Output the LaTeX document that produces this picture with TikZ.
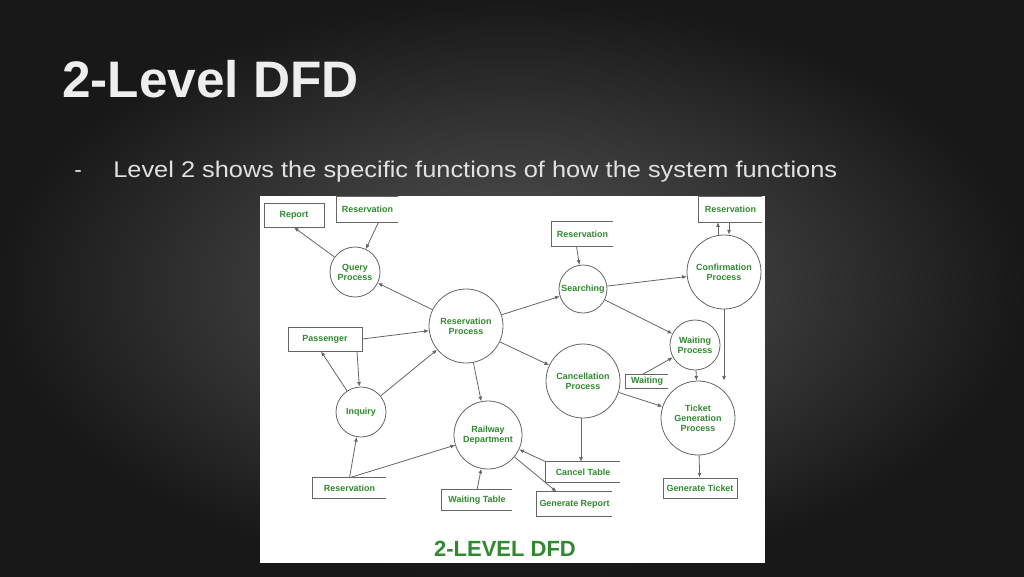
\documentclass[tikz,border=0pt]{standalone}
\usepackage{fontspec}
\setmainfont{Liberation Sans}
\usetikzlibrary{calc,arrows.meta}
\definecolor{dgreen}{HTML}{2F8A2F}
\definecolor{lgray}{HTML}{666666}
\begin{document}
\begin{tikzpicture}[x=0.75pt,y=-0.75pt,
  lbl/.style={text=dgreen,font=\fontsize{6.7}{7.4}\selectfont\bfseries,align=center,inner sep=0pt},
  proc/.style={lbl,circle,draw=lgray,line width=0.6pt,minimum size=#1},
  cbox/.style={lbl,draw=lgray,line width=0.6pt,minimum width=#1},
  obox/.style={lbl,minimum width=#1},
  fl/.style={draw=lgray,line width=0.6pt,-{Latex[length=3.5pt,width=3pt]}}]
\fill[inner color={rgb,255:red,88;green,88;blue,88},outer color={rgb,255:red,24;green,24;blue,24}] (0,0) rectangle (1024,576);
\useasboundingbox (0,0) rectangle (1024,576);
\node[anchor=base west,text={rgb,255:red,238;green,238;blue,238},font=\fontsize{38.5}{40}\selectfont\bfseries,inner sep=0] (title) at (62,97) {2-Level DFD};
\node[anchor=base west,text={rgb,255:red,225;green,225;blue,225},font=\fontsize{17}{18}\selectfont,inner sep=0] (dash) at (74,177) {-};
\node[anchor=base west,text={rgb,255:red,225;green,225;blue,225},font=\fontsize{17}{18}\selectfont,inner sep=0,xscale=1.12] (sub) at (113,177) {Level 2 shows the specific functions of how the system functions};
\fill[white] (260,196) rectangle (765,563);
% processes
\node[proc=37.5pt] (qp) at (355,272) {Query\\Process};
\node[proc=55.5pt] (rp) at (466,326) {Reservation\\Process};
\node[proc=37.5pt] (inq) at (361,412) {Inquiry};
\node[proc=51pt] (rd) at (488,435) {Railway\\Department};
\node[proc=36pt] (se) at (583,289) {Searching};
\node[proc=55.5pt] (cp) at (724,272) {Confirmation\\Process};
\node[proc=37.5pt] (wp) at (695,345) {Waiting\\Process};
\node[proc=55.5pt] (cn) at (583,381) {Cancellation\\Process};
\node[proc=55.5pt] (tg) at (698,418) {Ticket\\Generation\\Process};
% closed boxes
\node[cbox=45pt,minimum height=18pt] (rep) at (294,215) {Report};
\node[cbox=55.5pt,minimum height=18pt] (pas) at (325,339) {Passenger};
\node[cbox=55.5pt,minimum height=15pt] (gt) at (700,488) {Generate Ticket};
% open boxes
\node[obox=45.75pt,minimum height=18.75pt] (r1) at (367.5,209.5) {Reservation};
\node[obox=54.75pt,minimum height=15pt] (r2) at (349.5,488) {Reservation};
\node[obox=52.5pt,minimum height=15pt] (wt) at (477,500) {Waiting Table};
\node[obox=45.75pt,minimum height=18pt] (r3) at (582.5,234) {Reservation};
\node[obox=47.25pt,minimum height=18.75pt] (r4) at (730.5,209.5) {Reservation};
\node[obox=31.5pt,minimum height=9.75pt] (wb) at (647,381.5) {Waiting};
\node[obox=55.5pt,minimum height=15pt] (ct) at (583,472) {Cancel Table};
\node[obox=56.25pt,minimum height=18pt] (gr) at (574.5,504) {Generate Report};
\foreach \n in {r1,r2,wt,r3,r4,wb,ct,gr}
  \draw[lgray,line width=0.6pt] (\n.north east) -- (\n.north west) -- (\n.south west) -- (\n.south east);
% flows
\draw[fl] (qp) -- (rep.south);
\draw[fl] ($(r1.south)+(11,0)$) -- (qp);
\draw[fl] (rp) -- (qp);
\draw[fl] (pas.east) -- (rp);
\draw[fl] (inq) -- ($(pas.south)+(-4,0)$);
\draw[fl] ($(pas.south)+(32,0)$) -- (inq);
\draw[fl] (inq) -- (rp);
\coordinate (r2a) at ($(r2.north)+(0,0)$);
\draw[fl] (r2a) -- (inq);
\draw[fl] (r2a) -- (rd);
\draw[fl] (wt.north) -- (rd);
\draw[fl] (rp) -- (rd);
\draw[fl] (rp) -- (se);
\draw[fl] (rp) -- (cn);
\draw[fl] ($(r3.south)+(-6,0)$) -- (se);
\draw[fl] (se) -- (cp);
\draw[fl] (se) -- (wp);
\draw[fl] (cp.north -| 718,0) -- (r4.south -| 718,0);
\draw[fl] (r4.south -| 729,0) -- (cp.north -| 729,0);
\draw[fl] (cp.south) -- (tg.north -| cp.south);
\draw[fl] ($(wb.north)+(-5,0)$) -- (wp);
\draw[fl] (wp) -- (tg);
\draw[fl] (cn) -- (tg);
\draw[fl] (cn.south -| 581,0) -- (ct.north -| 581,0);
\draw[fl] (ct.north west) -- (rd);
\draw[fl] (rd) -- ($(gr.north)+(-18,0)$);
\draw[fl] (tg) -- (gt);
\node[text=dgreen,font=\fontsize{16.5}{18}\selectfont\bfseries,inner sep=0] (cap) at (505,549) {2-LEVEL DFD};
\end{tikzpicture}
\end{document}
